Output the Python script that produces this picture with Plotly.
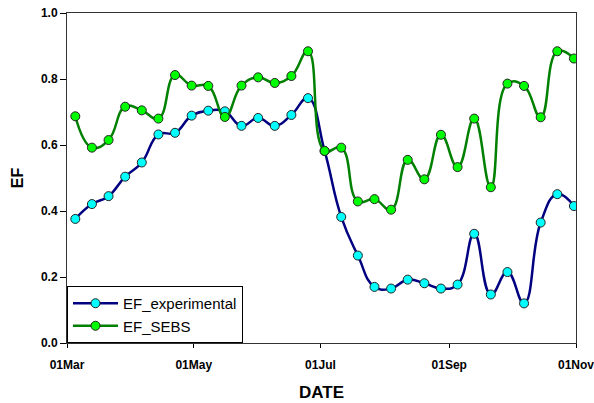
import datetime as dt
import plotly.graph_objects as go

# 8-day composite dates (Mar 5 .. Oct 31)
start = dt.date(2007, 3, 5)
dates = [start + dt.timedelta(days=8 * i) for i in range(31)]

ef_experimental = [0.376, 0.421, 0.445, 0.504, 0.547, 0.632, 0.637, 0.689, 0.704, 0.702,
                   0.658, 0.682, 0.658, 0.691, 0.742, 0.582, 0.382, 0.265, 0.170, 0.165,
                   0.192, 0.181, 0.165, 0.177, 0.331, 0.147, 0.215, 0.120, 0.365, 0.451,
                   0.415]
ef_sebs = [0.687, 0.592, 0.615, 0.716, 0.705, 0.680, 0.812, 0.780, 0.779, 0.685,
           0.780, 0.805, 0.788, 0.809, 0.884, 0.582, 0.592, 0.429, 0.436, 0.404,
           0.555, 0.496, 0.631, 0.533, 0.680, 0.472, 0.786, 0.779, 0.684, 0.884,
           0.862]

x_ticks = [dt.date(2007, m, 1) for m in (3, 5, 7, 9, 11)]
y_ticks = [0.0, 0.2, 0.4, 0.6, 0.8, 1.0]

fig = go.Figure()
fig.add_trace(go.Scatter(
    x=dates, y=ef_experimental, name="EF_experimental", mode="lines+markers",
    line=dict(color="#000080", width=2.5, shape="spline", smoothing=1.3),
    marker=dict(color="#00FFFF", size=9, line=dict(color="#222222", width=1)),
))
fig.add_trace(go.Scatter(
    x=dates, y=ef_sebs, name="EF_SEBS", mode="lines+markers",
    line=dict(color="#008000", width=2.5, shape="spline", smoothing=1.3),
    marker=dict(color="#00FF00", size=9, line=dict(color="#222222", width=1)),
))

axis_font = dict(family="Liberation Sans, Arial", size=12, color="black")
fig.update_layout(
    width=594, height=403,
    margin=dict(l=67, r=18, t=13, b=60),
    paper_bgcolor="white", plot_bgcolor="white",
    font=dict(family="Liberation Sans, Arial", color="black"),
    showlegend=True,
    legend=dict(
        x=0, y=0, xanchor="left", yanchor="bottom",
        bgcolor="white", bordercolor="black", borderwidth=1,
        font=dict(family="Liberation Sans, Arial", size=15, color="black"),
        tracegroupgap=0, itemwidth=45,
    ),
    xaxis=dict(
        range=[dt.date(2007, 3, 1), dt.date(2007, 11, 1)],
        tickvals=x_ticks, tickformat="%d%b",
        ticks="outside", ticklen=4, tickcolor="black", ticklabelstandoff=7,
        showline=True, linecolor="#333333", linewidth=1, mirror=True,
        showgrid=False, zeroline=False, automargin=False,
        ticklabeloverflow="allow",
        tickfont=dict(axis_font, weight="bold"),
        title=dict(text="<b>DATE</b>", font=dict(family="Liberation Sans, Arial", size=17),
                   standoff=14),
    ),
    yaxis=dict(
        range=[0, 1.0], tickvals=y_ticks, tickformat=".1f",
        ticks="outside", ticklen=6, tickcolor="black",
        showline=True, linecolor="#333333", linewidth=1, mirror=True,
        showgrid=False, zeroline=False, automargin=False,
        ticklabeloverflow="allow",
        tickfont=dict(axis_font, weight="bold"),
        title=dict(text="<b>EF</b>", font=dict(family="Liberation Sans, Arial", size=16),
                   standoff=13),
    ),
)

fig.write_html("out.html")
